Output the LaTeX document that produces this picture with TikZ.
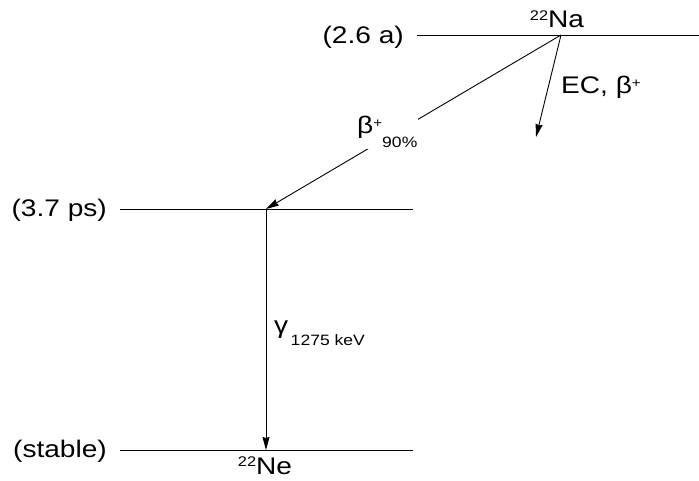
\documentclass[tikz,border=0pt]{standalone}
\usepackage{fontspec}
\setmainfont{Liberation Sans}[FakeStretch=1.17]
\usepackage{tikz}
\usetikzlibrary{arrows.meta}

\begin{document}
\begin{tikzpicture}[
    x=1pt, y=-1pt,
    arr/.style={-{Stealth[length=13pt, width=7pt, inset=1pt]}, line width=0.9pt},
    lvl/.style={line width=0.9pt},
    lbl/.style={font=\fontsize{24}{27}\selectfont, inner sep=1pt},
    sml/.style={font=\fontsize{15}{17}\selectfont}
  ]
  \useasboundingbox (0,0) rectangle (699,481);

  % ══ LEVELS ════════════════════════════════════════════════════════════════
  \coordinate (naL) at (417,35);
  \coordinate (naR) at (699,35);
  \coordinate (na)  at (561,35);
  \coordinate (exL) at (120,209);
  \coordinate (exR) at (413,209);
  \coordinate (ex)  at (266,209);
  \coordinate (gsL) at (120,450);
  \coordinate (gsR) at (413,450);
  \coordinate (gs)  at (266,450);

  \draw[lvl] (naL) -- (naR);
  \draw[lvl] (exL) -- (exR);
  \draw[lvl] (gsL) -- (gsR);

  % level labels
  \node[lbl, anchor=east] (tna) at (405,37) {(2.6 a)};
  \node[lbl, anchor=east] (tex) at (108,210) {(3.7 ps)};
  \node[lbl, anchor=east] (tgs) at (108,451) {(stable)};

  % nuclides
  \node[lbl, anchor=base] (nna) at (557,28)
    {\raisebox{0.6ex}{\fontsize{14}{16}\selectfont 22}Na};
  \node[lbl, anchor=base] (nne) at (265,474)
    {\raisebox{0.6ex}{\fontsize{14}{16}\selectfont 22}Ne};

  % ══ TRANSITIONS ═══════════════════════════════════════════════════════════
  % beta+ to excited state
  \draw[arr] (na) -- (ex);
  \node[lbl, fill=white, anchor=base west] (tbeta) at (356,134)
    {β\raisebox{0.55ex}{\fontsize{13}{15}\selectfont +}\raisebox{-1.1ex}{\fontsize{15}{17}\selectfont 90\%}};

  % EC, beta+ (other branch)
  \coordinate (ecend) at (536,137);
  \draw[arr] (na) -- (ecend);
  \node[lbl, anchor=base west] (tec) at (560,94)
    {EC, β\raisebox{0.55ex}{\fontsize{13}{15}\selectfont +}};

  % gamma to ground state
  \draw[arr] (ex) -- (gs);
  \node[lbl, anchor=base west] (tgam) at (273,333)
    {γ\raisebox{-1.0ex}{\fontsize{15}{17}\selectfont\,1275 keV}};

\end{tikzpicture}
\end{document}
